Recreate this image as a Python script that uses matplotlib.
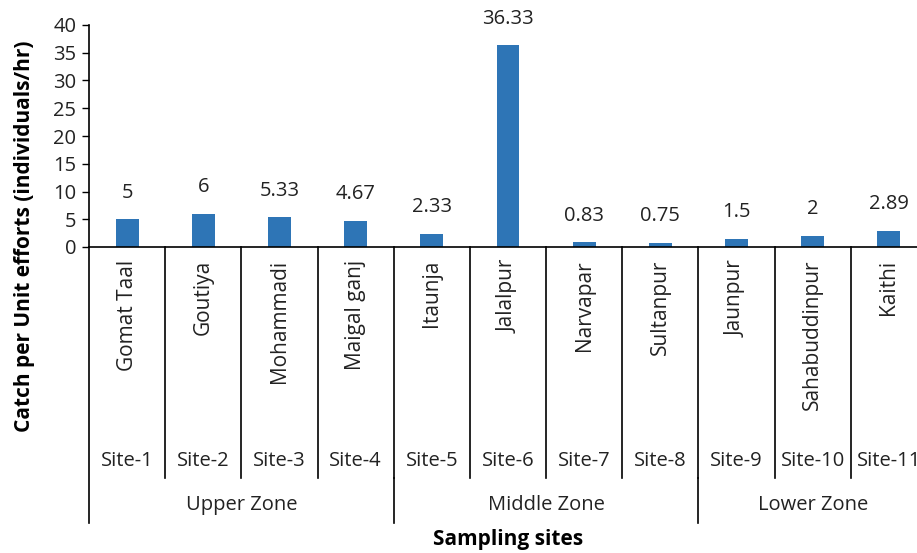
import matplotlib.pyplot as plt
import matplotlib.transforms as mtransforms

plt.rcParams['font.family'] = ['Open Sans', 'DejaVu Sans']

sites = ["Gomat Taal", "Goutiya", "Mohammadi", "Maigal ganj", "Itaunja", "Jalalpur",
         "Narvapar", "Sultanpur", "Jaunpur", "Sahabuddinpur", "Kaithi"]
site_ids = ["Site-1", "Site-2", "Site-3", "Site-4", "Site-5", "Site-6",
            "Site-7", "Site-8", "Site-9", "Site-10", "Site-11"]
cpue = [5, 6, 5.33, 4.67, 2.33, 36.33, 0.83, 0.75, 1.5, 2, 2.89]
value_labels = ["5", "6", "5.33", "4.67", "2.33", "36.33", "0.83", "0.75", "1.5", "2", "2.89"]
zones = ["Upper Zone", "Middle Zone", "Lower Zone"]
zone_sizes = [4, 4, 3]

W, H = 917, 553
fs = 14.5
fig = plt.figure(figsize=(W / 100, H / 100), dpi=100)
# axes runs a bit past the right edge, as in the original
ax = fig.add_axes([89 / W, 1 - 247 / H, (927 - 89) / W, (247 - 25) / H])

x = list(range(len(sites)))
ax.bar(x, cpue, width=0.3, color="#2e75b6", zorder=2)
for xi, v, lab in zip(x, cpue, value_labels):
    ax.annotate(lab, (xi, v), xytext=(0, 12), textcoords="offset points",
                ha="center", va="bottom", fontsize=fs, color="#222222")

ax.set_xlim(-0.5, len(sites) - 0.5)
ax.set_ylim(0, 40)
ax.set_yticks(range(0, 41, 5))
ax.tick_params(axis="y", labelsize=fs, length=5, width=1, pad=4, labelcolor="#222222")
ax.set_xticks([])
for s in ["top", "right", "bottom"]:
    ax.spines[s].set_visible(False)
ax.spines["left"].set_linewidth(1.2)
ax.axhline(0, color="black", lw=1.2, zorder=3, clip_on=False)

# multi-level category axis (figure y in pixels from top)
trans = mtransforms.blended_transform_factory(ax.transData, fig.transFigure)
fy = lambda p: 1 - p / H

for xi, name, sid in zip(x, sites, site_ids):
    ax.text(xi, fy(260), name, transform=trans, rotation=90, ha="center", va="top",
            fontsize=15, color="#222222")
    ax.text(xi, fy(461), sid, transform=trans, ha="center", va="center",
            fontsize=fs, color="#222222")

# separators between sites
for b in range(1, len(sites)):
    ax.plot([b - 0.5, b - 0.5], [fy(247), fy(478)], transform=trans,
            color="black", lw=1.2, clip_on=False)

# zone separators and labels
start = 0
ax.plot([-0.5, -0.5], [fy(247), fy(523)], transform=trans, color="black", lw=1.2, clip_on=False)
for z, n in zip(zones, zone_sizes):
    end = start + n
    ax.plot([end - 0.5, end - 0.5], [fy(478), fy(523)], transform=trans,
            color="black", lw=1.2, clip_on=False)
    ax.text((start + end - 1) / 2, fy(505), z, transform=trans, ha="center", va="center",
            fontsize=fs, color="#222222")
    start = end

fig.text(508 / W, fy(540), "Sampling sites", ha="center", va="center",
         fontsize=15, fontweight="bold")
fig.text(25 / W, fy(236), "Catch per Unit efforts (individuals/hr)", ha="center",
         va="center", rotation=90, fontsize=15, fontweight="bold")

fig.savefig("out.png", dpi=100)
